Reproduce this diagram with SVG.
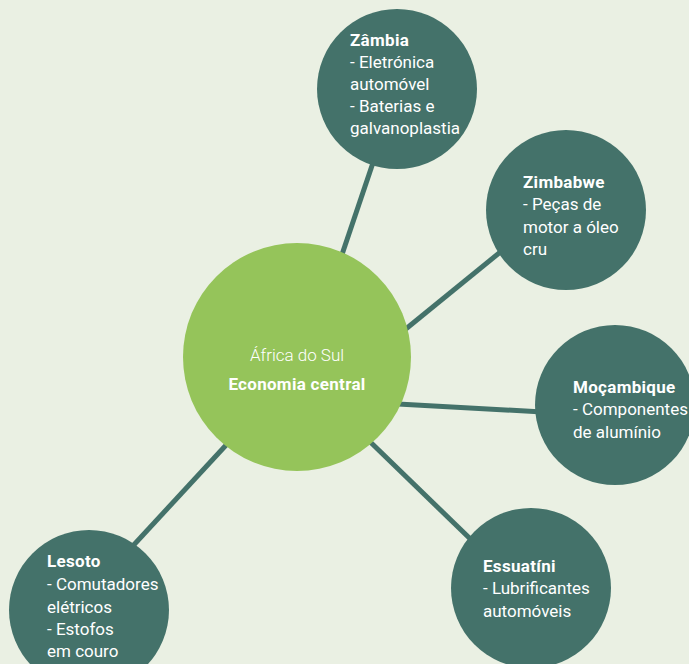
<svg xmlns="http://www.w3.org/2000/svg" width="689" height="664" viewBox="0 0 689 664">
<style>
.bg{fill:#eaf0e3}
.node{fill:#44726a}
.hub{fill:#95c45a}
.conn{stroke:#44726a;stroke-width:5;stroke-linecap:butt}
text{font-family:Roboto,"Liberation Sans",sans-serif;font-size:17px;fill:#ffffff}
.b{font-weight:bold;letter-spacing:0.3px}
.l{font-weight:300}
</style>
<rect class="bg" x="0" y="0" width="689" height="664"/>
<g id="connectors">
<line class="conn" x1="380" y1="142" x2="330" y2="290"/>
<line class="conn" x1="520" y1="236" x2="380" y2="350"/>
<line class="conn" x1="380" y1="403" x2="560" y2="413"/>
<line class="conn" x1="360" y1="432" x2="490" y2="558"/>
<line class="conn" x1="240" y1="430" x2="118" y2="562"/>
</g>
<g id="zambia">
<circle class="node" cx="397" cy="89" r="80"/>
<text x="350" y="46"><tspan class="b">Zâmbia</tspan><tspan x="350" y="68">- Eletrónica</tspan><tspan x="350" y="90">automóvel</tspan><tspan x="350" y="112">- Baterias e</tspan><tspan x="350" y="134">galvanoplastia</tspan></text>
</g>
<g id="zimbabwe">
<circle class="node" cx="566" cy="210" r="80"/>
<text x="523" y="188"><tspan class="b">Zimbabwe</tspan><tspan x="523" y="210">- Peças de</tspan><tspan x="523" y="233">motor a óleo</tspan><tspan x="523" y="255">cru</tspan></text>
</g>
<g id="mocambique">
<circle class="node" cx="615" cy="405" r="80"/>
<text x="573" y="393"><tspan class="b">Moçambique</tspan><tspan x="573" y="415">- Componentes</tspan><tspan x="573" y="438">de alumínio</tspan></text>
</g>
<g id="essuatini">
<circle class="node" cx="531" cy="588" r="80"/>
<text x="483" y="572"><tspan class="b">Essuatíni</tspan><tspan x="483" y="594">- Lubrificantes</tspan><tspan x="483" y="617">automóveis</tspan></text>
</g>
<g id="lesoto">
<circle class="node" cx="89" cy="610" r="80"/>
<text x="47" y="567"><tspan class="b">Lesoto</tspan><tspan x="47" y="590">- Comutadores</tspan><tspan x="47" y="613">elétricos</tspan><tspan x="47" y="635">- Estofos</tspan><tspan x="47" y="657">em couro</tspan></text>
</g>
<g id="africa-do-sul">
<circle class="hub" cx="297" cy="357" r="114"/>
<text class="l" x="297" y="361" text-anchor="middle">África do Sul</text>
<text class="b" x="297" y="390" text-anchor="middle">Economia central</text>
</g>
</svg>
